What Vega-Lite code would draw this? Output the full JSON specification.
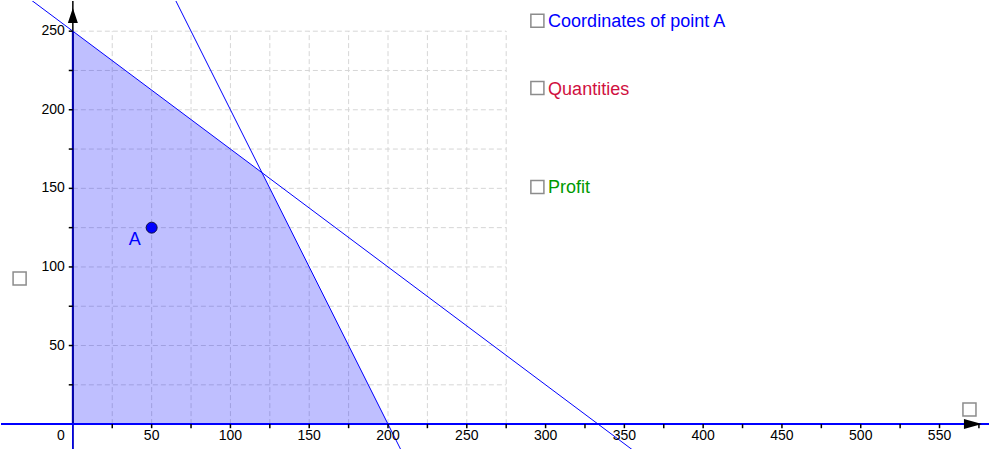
{
  "$schema": "https://vega.github.io/schema/vega-lite/v6.json",
  "width": 990,
  "height": 450,
  "autosize": {"type": "fit", "contains": "padding"},
  "padding": 0,
  "background": "white",
  "config": {"view": {"stroke": null}, "text": {"font": "Liberation Sans"}},
  "datasets": {
    "grid": [
      {"x": 25, "y": 0, "x2": 25, "y2": 250}, {"x": 50, "y": 0, "x2": 50, "y2": 250},
      {"x": 75, "y": 0, "x2": 75, "y2": 250}, {"x": 100, "y": 0, "x2": 100, "y2": 250},
      {"x": 125, "y": 0, "x2": 125, "y2": 250}, {"x": 150, "y": 0, "x2": 150, "y2": 250},
      {"x": 175, "y": 0, "x2": 175, "y2": 250}, {"x": 200, "y": 0, "x2": 200, "y2": 250},
      {"x": 225, "y": 0, "x2": 225, "y2": 250}, {"x": 250, "y": 0, "x2": 250, "y2": 250},
      {"x": 275, "y": 0, "x2": 275, "y2": 250},
      {"x": 0, "y": 25, "x2": 275, "y2": 25}, {"x": 0, "y": 50, "x2": 275, "y2": 50},
      {"x": 0, "y": 75, "x2": 275, "y2": 75}, {"x": 0, "y": 100, "x2": 275, "y2": 100},
      {"x": 0, "y": 125, "x2": 275, "y2": 125}, {"x": 0, "y": 150, "x2": 275, "y2": 150},
      {"x": 0, "y": 175, "x2": 275, "y2": 175}, {"x": 0, "y": 200, "x2": 275, "y2": 200},
      {"x": 0, "y": 225, "x2": 275, "y2": 225}, {"x": 0, "y": 250, "x2": 275, "y2": 250}
    ],
    "region": [
      {"x": 0, "y": 250, "y2": 0},
      {"x": 120, "y": 160, "y2": 0},
      {"x": 200, "y": 0, "y2": 0}
    ],
    "constraints": [
      {"name": "3x + 4y = 1000", "x": -60, "y": 295, "x2": 360, "y2": -20},
      {"name": "2x + y = 400", "x": 60, "y": 280, "x2": 210, "y2": -20}
    ],
    "xticks": [
      {"x": 25}, {"x": 50}, {"x": 75}, {"x": 100}, {"x": 125}, {"x": 150}, {"x": 175}, {"x": 200},
      {"x": 225}, {"x": 250}, {"x": 275}, {"x": 300}, {"x": 325}, {"x": 350}, {"x": 375}, {"x": 400},
      {"x": 425}, {"x": 450}, {"x": 475}, {"x": 500}, {"x": 525}, {"x": 550}, {"x": 575}
    ],
    "yticks": [
      {"y": 25}, {"y": 50}, {"y": 75}, {"y": 100}, {"y": 125},
      {"y": 150}, {"y": 175}, {"y": 200}, {"y": 225}, {"y": 250}
    ],
    "xlabels": [
      {"x": 50, "label": "50"}, {"x": 100, "label": "100"}, {"x": 150, "label": "150"},
      {"x": 200, "label": "200"}, {"x": 250, "label": "250"}, {"x": 300, "label": "300"},
      {"x": 350, "label": "350"}, {"x": 400, "label": "400"}, {"x": 450, "label": "450"},
      {"x": 500, "label": "500"}, {"x": 550, "label": "550"}
    ],
    "ylabels": [
      {"y": 50, "label": "50"}, {"y": 100, "label": "100"}, {"y": 150, "label": "150"},
      {"y": 200, "label": "200"}, {"y": 250, "label": "250"}
    ],
    "checkboxes": [
      {"x": 294.8, "y": 256.7}, {"x": 294.8, "y": 213.9}, {"x": 294.8, "y": 150.9},
      {"x": -33.8, "y": 92.7}, {"x": 569.0, "y": 9.3}
    ],
    "captions": [
      {"item": "coords", "x": 301.6, "y": 252.7, "label": "Coordinates of point A"},
      {"item": "quantities", "x": 301.6, "y": 209.6, "label": "Quantities"},
      {"item": "profit", "x": 301.6, "y": 147.1, "label": "Profit"}
    ],
    "pointA": [{"x": 50, "y": 125, "label": "A"}]
  },
  "layer": [
    {
      "data": {"name": "grid"},
      "mark": {"type": "rule", "color": "#d6d6d6", "strokeWidth": 1, "strokeDash": [5, 3]},
      "encoding": {
        "x": {"field": "x", "type": "quantitative", "axis": null, "scale": {"domain": [-45.6, 581.4], "nice": false, "zero": false}},
        "y": {"field": "y", "type": "quantitative", "axis": null, "scale": {"domain": [-15.83, 269.2], "nice": false, "zero": false}},
        "x2": {"field": "x2"}, "y2": {"field": "y2"}
      }
    },
    {
      "data": {"name": "region"},
      "mark": {"type": "area", "color": "#0000ff", "opacity": 0.25, "interpolate": "linear"},
      "encoding": {
        "x": {"field": "x", "type": "quantitative", "axis": null, "scale": {"domain": [-45.6, 581.4], "nice": false, "zero": false}},
        "y": {"field": "y", "type": "quantitative", "axis": null, "scale": {"domain": [-15.83, 269.2], "nice": false, "zero": false}},
        "y2": {"field": "y2"}
      }
    },
    {
      "data": {"values": [{"x": 0, "y": -15.83, "y2": 269.2}]},
      "mark": {"type": "rule", "color": "black", "strokeWidth": 1.5},
      "encoding": {
        "x": {"field": "x", "type": "quantitative", "axis": null, "scale": {"domain": [-45.6, 581.4], "nice": false, "zero": false}},
        "y": {"field": "y", "type": "quantitative", "axis": null, "scale": {"domain": [-15.83, 269.2], "nice": false, "zero": false}},
        "y2": {"field": "y2"}
      }
    },
    {
      "data": {"values": [{"x": 0, "y": -15.83, "y2": 0}]},
      "mark": {"type": "rule", "color": "#0000ff", "strokeWidth": 1.5},
      "encoding": {
        "x": {"field": "x", "type": "quantitative", "axis": null, "scale": {"domain": [-45.6, 581.4], "nice": false, "zero": false}},
        "y": {"field": "y", "type": "quantitative", "axis": null, "scale": {"domain": [-15.83, 269.2], "nice": false, "zero": false}},
        "y2": {"field": "y2"}
      }
    },
    {
      "data": {"values": [{"x": 0, "y": 0, "y2": 250}]},
      "mark": {"type": "rule", "color": "#0000b0", "strokeWidth": 2},
      "encoding": {
        "x": {"field": "x", "type": "quantitative", "axis": null, "scale": {"domain": [-45.6, 581.4], "nice": false, "zero": false}},
        "y": {"field": "y", "type": "quantitative", "axis": null, "scale": {"domain": [-15.83, 269.2], "nice": false, "zero": false}},
        "y2": {"field": "y2"}
      }
    },
    {
      "data": {"values": [{"x": -45.6, "x2": 581.4, "y": 0}]},
      "mark": {"type": "rule", "color": "#0000ff", "strokeWidth": 2},
      "encoding": {
        "x": {"field": "x", "type": "quantitative", "axis": null, "scale": {"domain": [-45.6, 581.4], "nice": false, "zero": false}},
        "y": {"field": "y", "type": "quantitative", "axis": null, "scale": {"domain": [-15.83, 269.2], "nice": false, "zero": false}},
        "x2": {"field": "x2"}
      }
    },
    {
      "data": {"name": "constraints"},
      "mark": {"type": "rule", "color": "#0000ff", "strokeWidth": 1, "clip": true},
      "encoding": {
        "x": {"field": "x", "type": "quantitative", "axis": null, "scale": {"domain": [-45.6, 581.4], "nice": false, "zero": false}},
        "y": {"field": "y", "type": "quantitative", "axis": null, "scale": {"domain": [-15.83, 269.2], "nice": false, "zero": false}},
        "x2": {"field": "x2"}, "y2": {"field": "y2"}
      }
    },
    {
      "data": {"name": "xticks"},
      "mark": {"type": "rule", "color": "black", "strokeWidth": 1.5},
      "encoding": {
        "x": {"field": "x", "type": "quantitative", "axis": null, "scale": {"domain": [-45.6, 581.4], "nice": false, "zero": false}},
        "y": {"datum": 0, "type": "quantitative", "axis": null, "scale": {"domain": [-15.83, 269.2], "nice": false, "zero": false}},
        "y2": {"datum": -2.6}
      }
    },
    {
      "data": {"name": "yticks"},
      "mark": {"type": "rule", "color": "black", "strokeWidth": 1.5},
      "encoding": {
        "x": {"datum": 0, "type": "quantitative", "axis": null, "scale": {"domain": [-45.6, 581.4], "nice": false, "zero": false}},
        "y": {"field": "y", "type": "quantitative", "axis": null, "scale": {"domain": [-15.83, 269.2], "nice": false, "zero": false}},
        "x2": {"datum": -2.6}
      }
    },
    {
      "data": {"values": [{"x": 0, "y": 260}]},
      "mark": {"type": "point", "shape": "M0,-0.75L0.5,0.75L-0.5,0.75Z", "size": 400,
               "filled": true, "color": "black", "opacity": 1},
      "encoding": {
        "x": {"field": "x", "type": "quantitative", "axis": null, "scale": {"domain": [-45.6, 581.4], "nice": false, "zero": false}},
        "y": {"field": "y", "type": "quantitative", "axis": null, "scale": {"domain": [-15.83, 269.2], "nice": false, "zero": false}}
      }
    },
    {
      "data": {"values": [{"x": 571.2, "y": 0}]},
      "mark": {"type": "point", "shape": "M0.9,0L-0.9,0.5L-0.9,-0.5Z", "size": 400,
               "filled": true, "color": "black", "opacity": 1},
      "encoding": {
        "x": {"field": "x", "type": "quantitative", "axis": null, "scale": {"domain": [-45.6, 581.4], "nice": false, "zero": false}},
        "y": {"field": "y", "type": "quantitative", "axis": null, "scale": {"domain": [-15.83, 269.2], "nice": false, "zero": false}}
      }
    },
    {
      "data": {"name": "xlabels"},
      "mark": {"type": "text", "fontSize": 14, "color": "black", "align": "center", "baseline": "middle"},
      "encoding": {
        "x": {"field": "x", "type": "quantitative", "axis": null, "scale": {"domain": [-45.6, 581.4], "nice": false, "zero": false}},
        "y": {"datum": -7.6, "type": "quantitative", "axis": null, "scale": {"domain": [-15.83, 269.2], "nice": false, "zero": false}},
        "text": {"field": "label"}
      }
    },
    {
      "data": {"values": [{"x": -7.6, "y": -7.6, "label": "0"}]},
      "mark": {"type": "text", "fontSize": 14, "color": "black", "align": "center", "baseline": "middle"},
      "encoding": {
        "x": {"field": "x", "type": "quantitative", "axis": null, "scale": {"domain": [-45.6, 581.4], "nice": false, "zero": false}},
        "y": {"field": "y", "type": "quantitative", "axis": null, "scale": {"domain": [-15.83, 269.2], "nice": false, "zero": false}},
        "text": {"field": "label"}
      }
    },
    {
      "data": {"name": "ylabels"},
      "mark": {"type": "text", "fontSize": 14, "color": "black", "align": "right", "baseline": "middle"},
      "encoding": {
        "x": {"datum": -5.1, "type": "quantitative", "axis": null, "scale": {"domain": [-45.6, 581.4], "nice": false, "zero": false}},
        "y": {"field": "y", "type": "quantitative", "axis": null, "scale": {"domain": [-15.83, 269.2], "nice": false, "zero": false}},
        "text": {"field": "label"}
      }
    },
    {
      "data": {"name": "pointA"},
      "mark": {"type": "point", "shape": "circle", "size": 120, "filled": true,
               "color": "#0000ff", "stroke": "#101040", "strokeWidth": 1, "opacity": 1},
      "encoding": {
        "x": {"field": "x", "type": "quantitative", "axis": null, "scale": {"domain": [-45.6, 581.4], "nice": false, "zero": false}},
        "y": {"field": "y", "type": "quantitative", "axis": null, "scale": {"domain": [-15.83, 269.2], "nice": false, "zero": false}}
      }
    },
    {
      "data": {"name": "pointA"},
      "mark": {"type": "text", "fontSize": 18, "color": "#0000ff", "align": "left",
               "baseline": "alphabetic", "dx": -23, "dy": 17.5},
      "encoding": {
        "x": {"field": "x", "type": "quantitative", "axis": null, "scale": {"domain": [-45.6, 581.4], "nice": false, "zero": false}},
        "y": {"field": "y", "type": "quantitative", "axis": null, "scale": {"domain": [-15.83, 269.2], "nice": false, "zero": false}},
        "text": {"field": "label"}
      }
    },
    {
      "data": {"name": "checkboxes"},
      "mark": {"type": "point", "shape": "square", "size": 170, "filled": false,
               "color": "#8c8c8c", "strokeWidth": 1.5, "opacity": 1, "fill": "white", "fillOpacity": 1},
      "encoding": {
        "x": {"field": "x", "type": "quantitative", "axis": null, "scale": {"domain": [-45.6, 581.4], "nice": false, "zero": false}},
        "y": {"field": "y", "type": "quantitative", "axis": null, "scale": {"domain": [-15.83, 269.2], "nice": false, "zero": false}}
      }
    },
    {
      "data": {"name": "captions"},
      "mark": {"type": "text", "fontSize": 18, "align": "left", "baseline": "alphabetic"},
      "encoding": {
        "x": {"field": "x", "type": "quantitative", "axis": null, "scale": {"domain": [-45.6, 581.4], "nice": false, "zero": false}},
        "y": {"field": "y", "type": "quantitative", "axis": null, "scale": {"domain": [-15.83, 269.2], "nice": false, "zero": false}},
        "text": {"field": "label"},
        "color": {"field": "item", "type": "nominal", "legend": null,
                  "scale": {"domain": ["coords", "quantities", "profit"],
                            "range": ["#0000ff", "#d01040", "#009900"]}}
      }
    }
  ]
}
